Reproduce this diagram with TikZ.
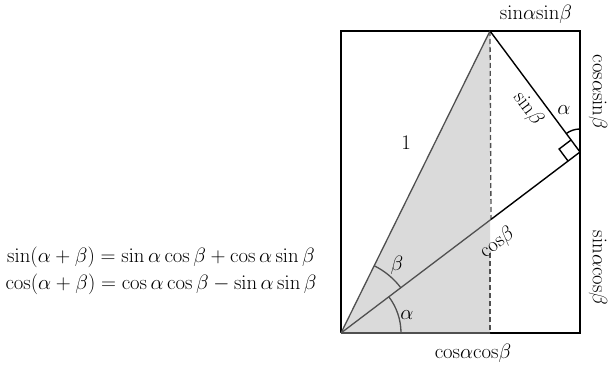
\documentclass[tikz,border=0pt]{standalone}
\usetikzlibrary{calc}
\definecolor{shadegray}{HTML}{DADADA}
\definecolor{linegray}{HTML}{505050}
\begin{document}
\begin{tikzpicture}[x=1pt,y=1pt,
  lbl/.style={font=\fontsize{20}{24}\selectfont, inner sep=0pt},
  eqn/.style={font=\fontsize{19.5}{23}\selectfont, inner sep=0pt},
  frame/.style={line width=1.5pt, black},
  gline/.style={line width=1.3pt, linegray},
  bline/.style={line width=1.4pt, black}]
\useasboundingbox (0,0) rectangle (612,365);
\coordinate (O) at (341,32);
\coordinate (P) at (490,334);
\coordinate (Q) at (580,213);
\coordinate (F) at (490,32);
\coordinate (TL) at (341,334);
\coordinate (TR) at (580,334);
\coordinate (BR) at (580,32);
\coordinate (M) at ($(O)!0.6276!(Q)$);
\coordinate (G) at (490,112);
% shaded triangle
\fill[shadegray] (O) -- (P) -- (F) -- cycle;
% frame
\draw[frame] (F) -- (BR) -- (TR) -- (TL) -- (O);
\draw[gline] (O) -- (F);
% dashed
\draw[linegray, line width=1.3pt, dash pattern=on 5pt off 3pt] (P) -- (M);
\draw[linegray, line width=1.3pt, dash pattern=on 5pt off 3pt] (G) -- (F);
% triangle sides
\draw[gline] (O) -- (P);
\draw[gline] (O) -- (M);
\draw[bline] (M) -- (Q);
\draw[bline] (P) -- (Q);
% right angle mark
\draw[bline] ($(Q)+(217.14:15)$) -- ($(Q)+(217.14:15)+(126.64:15)$) -- ($(Q)+(126.64:15)$);
% angle arcs
\draw[gline] ($(O)+(0:60)$) arc (0:37.14:60);
\draw[gline] ($(O)+(37.14:75)$) arc (37.14:63.74:75);
\draw[bline] ($(Q)+(90:23)$) arc (90:126.64:23);
% labels
\node[lbl] (l1) at (536,351) {$\mathrm{sin}\alpha\mathrm{sin}\beta$};
\node[lbl, rotate=-90] (l2) at (598,273) {$\mathrm{cos}\alpha\mathrm{sin}\beta$};
\node[lbl, rotate=-90] (l3) at (598,97) {$\mathrm{sin}\alpha\mathrm{cos}\beta$};
\node[lbl] (l4) at (473,12) {$\mathrm{cos}\alpha\mathrm{cos}\beta$};
\node[lbl] (l5) at (406,222) {$1$};
\node[lbl, rotate=-53.4] (l6) at (528,256) {$\mathrm{sin}\beta$};
\node[lbl] (l7) at (564,255) {$\alpha$};
\node[lbl, rotate=37.14] (l8) at (497.5,122) {$\mathrm{cos}\beta$};
\node[lbl] (l9) at (397,100) {$\beta$};
\node[lbl] (l10) at (407,50) {$\alpha$};
\node[eqn] (f1) at (161,108) {$\sin(\alpha+\beta)=\sin\alpha\cos\beta+\cos\alpha\sin\beta$};
\node[eqn] (f2) at (161,81) {$\cos(\alpha+\beta)=\cos\alpha\cos\beta-\sin\alpha\sin\beta$};
\end{tikzpicture}
\end{document}
